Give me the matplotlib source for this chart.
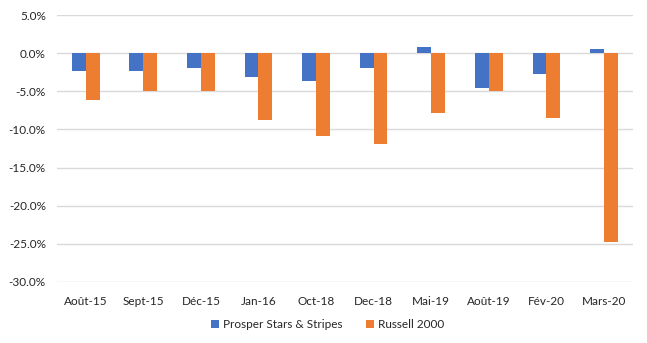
import numpy as np
import matplotlib.pyplot as plt
from matplotlib.ticker import FuncFormatter

mois = ["Août-15", "Sept-15", "Déc-15", "Jan-16", "Oct-18", "Dec-18",
        "Mai-19", "Août-19", "Fév-20", "Mars-20"]
prosper = [-2.3, -2.3, -1.9, -3.1, -3.6, -1.9, 0.8, -4.5, -2.7, 0.5]
russell = [-6.2, -4.9, -5.0, -8.7, -10.8, -11.9, -7.8, -4.9, -8.5, -24.7]

plt.rcParams['font.family'] = ['Lato', 'DejaVu Sans']

fig = plt.figure(figsize=(6.47, 3.43), dpi=100)
ax = fig.add_axes([0.088, 0.178, 0.89, 0.778])

x = np.arange(len(mois))
w = 0.24
ax.bar(x - w / 2, prosper, w, color='#4472C4', label='Prosper Stars & Stripes', zorder=3)
ax.bar(x + w / 2, russell, w, color='#ED7D31', label='Russell 2000', zorder=3)

ax.set_ylim(-30, 5)
ax.set_xlim(-0.5, len(mois) - 0.5)
ax.set_yticks(np.arange(-30, 5.1, 5))
ax.yaxis.set_major_formatter(FuncFormatter(lambda v, p: f"{v:.1f}%"))
ax.set_xticks(x)
ax.set_xticklabels(mois)
ax.grid(axis='y', color='#d9d9d9', linewidth=1, zorder=0)
for s in ax.spines.values():
    s.set_visible(False)
ax.tick_params(length=0, labelsize=8.5, colors='#262626')
ax.tick_params(axis='x', pad=10)
ax.tick_params(axis='y', pad=8)

ax.legend(loc='upper center', bbox_to_anchor=(0.47, -0.1), ncol=2, frameon=False,
          fontsize=8.5, handlelength=0.7, handleheight=0.7, columnspacing=2.0,
          handletextpad=0.3, labelcolor='#262626')

fig.savefig('out.png', dpi=100)
